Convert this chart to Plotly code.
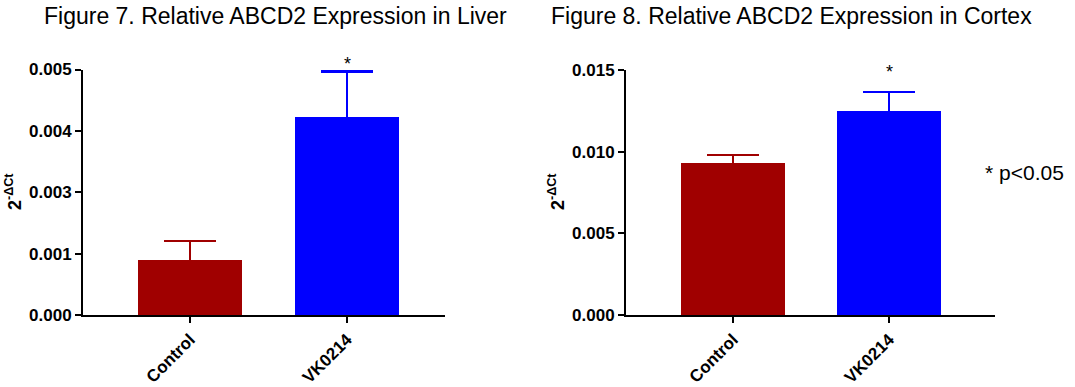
import plotly.graph_objects as go

categories = ["Control", "VK0214"]
liver_values = [0.00113, 0.00404]
liver_err = [0.00037, 0.00092]
cortex_values = [0.00929, 0.01249]
cortex_err = [0.00051, 0.00117]
colors = ["#A00000", "#0000FF"]
liver_tickvals = [0, 0.00125, 0.0025, 0.00375, 0.005]
liver_ticktext = ["0.000", "0.001", "0.003", "0.004", "0.005"]
cortex_tickvals = [0, 0.005, 0.010, 0.015]
cortex_ticktext = ["0.000", "0.005", "0.010", "0.015"]
titles = ["Figure 7. Relative ABCD2 Expression in Liver", "Figure 8. Relative ABCD2 Expression in Cortex"]
ylabel = "<b>2<sup>-ΔCt</sup></b>"
note = "* p<0.05"

W, H = 1075, 387
FONT = "Liberation Sans, Arial, sans-serif"

def px(x):
    return x / W

def py(y):
    return 1 - y / H

fig = go.Figure()

def add_bars(vals, errs, xa, ya):
    for i, (c, v, e) in enumerate(zip(categories, vals, errs)):
        fig.add_trace(go.Bar(
            x=[i], y=[v], xaxis=xa, yaxis=ya, width=0.668,
            marker=dict(color=colors[i], line=dict(width=0)),
            error_y=dict(type="data", array=[e], symmetric=True,
                         color=colors[i], thickness=2.2, width=26),
            showlegend=False, hoverinfo="skip"))

add_bars(liver_values, liver_err, "x", "y")
add_bars(cortex_values, cortex_err, "x2", "y2")

axis_common = dict(showline=True, linecolor="black", linewidth=2, ticks="outside",
                   tickwidth=2, ticklen=6, tickcolor="black", showgrid=False, zeroline=False,
                   automargin=False,
                   tickfont=dict(family=FONT, size=17, color="black", weight="bold"))

fig.update_layout(
    width=W, height=H, margin=dict(l=0, r=0, t=0, b=0, autoexpand=False),
    plot_bgcolor="white", paper_bgcolor="white",
    bargap=0,
    xaxis=dict(domain=[px(83), px(445)], range=[-0.6815, 1.624], anchor="y",
               tickvals=[0, 1], ticktext=categories, tickangle=-45, **axis_common),
    yaxis=dict(domain=[py(315), py(69.5)], range=[0, 0.005], anchor="x",
               tickvals=liver_tickvals, ticktext=liver_ticktext, **axis_common),
    xaxis2=dict(domain=[px(626), px(995)], range=[-0.686, 1.679], anchor="y2",
                tickvals=[0, 1], ticktext=categories, tickangle=-45, **axis_common),
    yaxis2=dict(domain=[py(315), py(70)], range=[0, 0.015], anchor="x2",
                tickvals=cortex_tickvals, ticktext=cortex_ticktext, **axis_common),
)

# y-axis labels
for xc in (13, 556):
    fig.add_annotation(x=px(xc), y=py(192), xref="paper", yref="paper", text=ylabel,
                       textangle=-90, showarrow=False, xanchor="center", yanchor="middle",
                       font=dict(family=FONT, size=18, color="black"))

# significance stars
fig.add_annotation(x=1, y=liver_values[1] + liver_err[1], xref="x", yref="y", text="*",
                   showarrow=False, yanchor="bottom", yshift=-5,
                   font=dict(family=FONT, size=18, color="black"))
fig.add_annotation(x=1, y=cortex_values[1] + cortex_err[1], xref="x2", yref="y2", text="*",
                   showarrow=False, yanchor="bottom", yshift=8,
                   font=dict(family=FONT, size=18, color="black"))

# titles
fig.add_annotation(x=px(275.5), y=py(16), xref="paper", yref="paper", text=titles[0],
                   showarrow=False, xanchor="center", yanchor="middle",
                   font=dict(family=FONT, size=23, color="black"))
fig.add_annotation(x=px(791), y=py(16), xref="paper", yref="paper", text=titles[1],
                   showarrow=False, xanchor="center", yanchor="middle",
                   font=dict(family=FONT, size=23, color="black"))

fig.add_annotation(x=px(983), y=py(172), xref="paper", yref="paper", text=note,
                   showarrow=False, xanchor="left", yanchor="middle",
                   font=dict(family=FONT, size=21, color="black"))

fig.write_html("out.html", config={"displayModeBar": False},
               post_script="document.body.style.margin='0';document.body.style.overflow='hidden';")
